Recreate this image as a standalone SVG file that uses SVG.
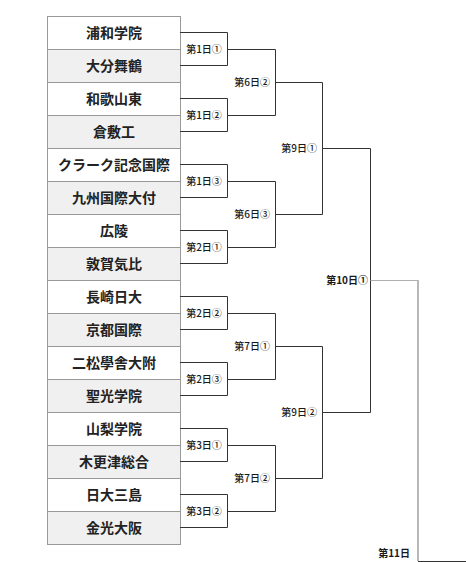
<svg xmlns="http://www.w3.org/2000/svg" width="466" height="562" viewBox="0 0 466 562">
<style>
.team{font-family:"Noto Sans CJK JP","Noto Sans",sans-serif;font-size:14px;font-weight:bold;fill:#222;text-anchor:middle}
.lbl{font-family:"Noto Sans CJK JP","Noto Sans",sans-serif;font-size:10px;font-weight:500;fill:#1a1a1a}
.mid{text-anchor:middle}
.end{text-anchor:end}
.b{font-weight:bold}
.row{stroke:#999;stroke-width:1}
.ln{stroke:#333;stroke-width:1;fill:none}
.gl{stroke:#b0b0b0;stroke-width:1;fill:none}
</style>
<rect width="466" height="562" fill="#fff"/>
<g id="table">
<g id="team1"><rect x="47.5" y="16.5" width="133" height="33" fill="#fff" class="row"/><text class="team" x="114" y="38">浦和学院</text></g>
<g id="team2"><rect x="47.5" y="49.5" width="133" height="33" fill="#f0f0f0" class="row"/><text class="team" x="114" y="71">大分舞鶴</text></g>
<g id="team3"><rect x="47.5" y="82.5" width="133" height="33" fill="#fff" class="row"/><text class="team" x="114" y="104">和歌山東</text></g>
<g id="team4"><rect x="47.5" y="115.5" width="133" height="33" fill="#f0f0f0" class="row"/><text class="team" x="114" y="137">倉敷工</text></g>
<g id="team5"><rect x="47.5" y="148.5" width="133" height="33" fill="#fff" class="row"/><text class="team" x="114" y="170">クラーク記念国際</text></g>
<g id="team6"><rect x="47.5" y="181.5" width="133" height="33" fill="#f0f0f0" class="row"/><text class="team" x="114" y="203">九州国際大付</text></g>
<g id="team7"><rect x="47.5" y="214.5" width="133" height="33" fill="#fff" class="row"/><text class="team" x="114" y="236">広陵</text></g>
<g id="team8"><rect x="47.5" y="247.5" width="133" height="33" fill="#f0f0f0" class="row"/><text class="team" x="114" y="269">敦賀気比</text></g>
<g id="team9"><rect x="47.5" y="280.5" width="133" height="33" fill="#fff" class="row"/><text class="team" x="114" y="302">長崎日大</text></g>
<g id="team10"><rect x="47.5" y="313.5" width="133" height="33" fill="#f0f0f0" class="row"/><text class="team" x="114" y="335">京都国際</text></g>
<g id="team11"><rect x="47.5" y="346.5" width="133" height="33" fill="#fff" class="row"/><text class="team" x="114" y="368">二松學舎大附</text></g>
<g id="team12"><rect x="47.5" y="379.5" width="133" height="33" fill="#f0f0f0" class="row"/><text class="team" x="114" y="401">聖光学院</text></g>
<g id="team13"><rect x="47.5" y="412.5" width="133" height="33" fill="#fff" class="row"/><text class="team" x="114" y="434">山梨学院</text></g>
<g id="team14"><rect x="47.5" y="445.5" width="133" height="33" fill="#f0f0f0" class="row"/><text class="team" x="114" y="467">木更津総合</text></g>
<g id="team15"><rect x="47.5" y="478.5" width="133" height="33" fill="#fff" class="row"/><text class="team" x="114" y="500">日大三島</text></g>
<g id="team16"><rect x="47.5" y="511.5" width="133" height="33" fill="#f0f0f0" class="row"/><text class="team" x="114" y="533">金光大阪</text></g>
</g>
<g id="connectors">
<path class="ln" d="M180 32.5H227.5V65.5H180 M180 98.5H227.5V131.5H180 M180 164.5H227.5V197.5H180 M180 230.5H227.5V263.5H180 M180 296.5H227.5V329.5H180 M180 362.5H227.5V395.5H180 M180 428.5H227.5V461.5H180 M180 494.5H227.5V527.5H180"/>
<path class="ln" d="M227.5 49.5H275.5V115.5H227.5 M227.5 181.5H275.5V247.5H227.5 M227.5 313.5H275.5V379.5H227.5 M227.5 445.5H275.5V511.5H227.5"/>
<path class="ln" d="M275.5 82.5H322.5V214.5H275.5 M275.5 346.5H322.5V478.5H275.5"/>
<path class="ln" d="M322.5 148.5H370.5V412.5H322.5"/>
<path class="gl" d="M370.5 280.5H417.5"/>
<path d="M418 280V561" stroke="#b8b8b8" stroke-width="2" fill="none"/>
<path class="ln" d="M418 561.5H466"/>
</g>
<g id="labels">
<text class="lbl mid" x="204" y="52.5">第1日①</text>
<text class="lbl mid" x="204" y="118.5">第1日②</text>
<text class="lbl mid" x="204" y="184.5">第1日③</text>
<text class="lbl mid" x="204" y="250.5">第2日①</text>
<text class="lbl mid" x="204" y="316.5">第2日②</text>
<text class="lbl mid" x="204" y="382.5">第2日③</text>
<text class="lbl mid" x="204" y="448.5">第3日①</text>
<text class="lbl mid" x="204" y="514.5">第3日②</text>
<text class="lbl end" x="270" y="85.5">第6日②</text>
<text class="lbl end" x="270" y="217.5">第6日③</text>
<text class="lbl end" x="270" y="349.5">第7日①</text>
<text class="lbl end" x="270" y="481.5">第7日②</text>
<text class="lbl end" x="317" y="151.5">第9日①</text>
<text class="lbl end" x="317" y="415.5">第9日②</text>
<text class="lbl end b" x="368" y="283.5">第10日①</text>
<text class="lbl end b" x="410" y="556.5">第11日</text>
</g>
</svg>
